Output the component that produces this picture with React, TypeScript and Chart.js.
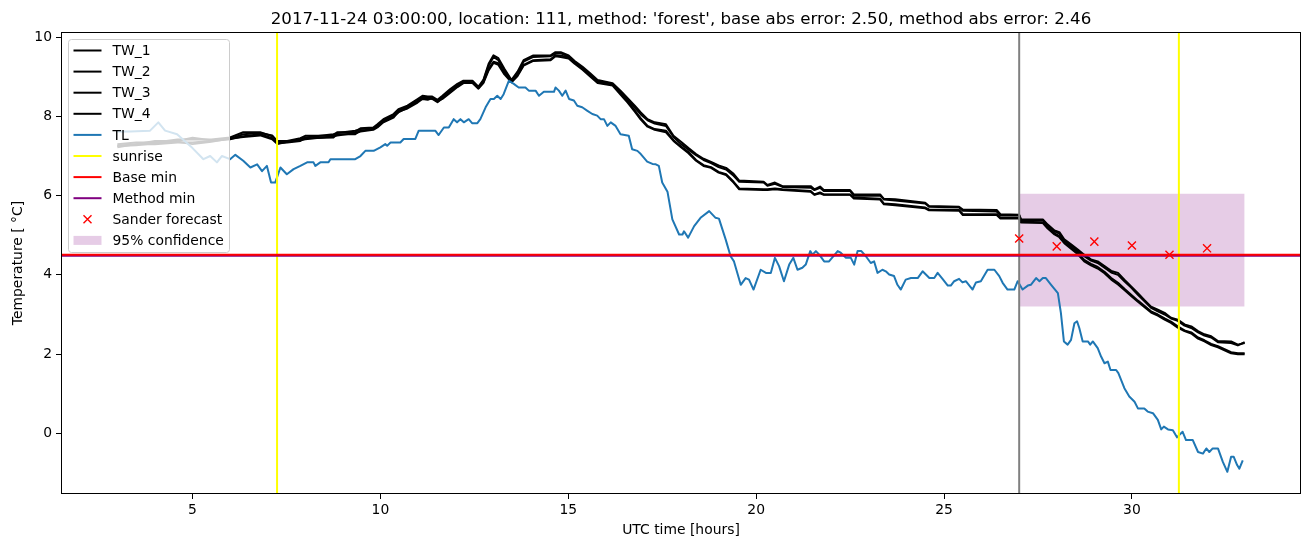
import React, { useEffect, useRef } from "react";
import { Chart, registerables } from "chart.js";

Chart.register(...registerables);

// ---------- text ----------
const titleText =
  "2017-11-24 03:00:00, location: 111, method: 'forest', base abs error: 2.50, method abs error: 2.46";
const xLabel = "UTC time [hours]";
const yLabel = "Temperature [ \u00B0C]";

// ---------- axes ----------
const xLimits = [1.5, 34.5];
const yLimits = [-1.53, 10.13];
const xTicks = [5, 10, 15, 20, 25, 30];
const yTicks = [0, 2, 4, 6, 8, 10];

// ---------- TL (air temperature) ----------
const tlHours = [
  3.0, 3.34, 3.87, 4.09, 4.27, 4.59, 5.0, 5.29, 5.47, 5.65,
  5.78, 6.0, 6.14, 6.35, 6.54, 6.72, 6.85, 6.98, 7.09, 7.2,
  7.34, 7.51, 7.69, 7.87, 8.05, 8.22, 8.27, 8.4, 8.62, 8.67,
  9.33, 9.47, 9.6, 9.82, 10.0, 10.13, 10.18, 10.27, 10.53, 10.62,
  10.93, 11.02, 11.46, 11.55, 11.69, 11.82, 11.95, 12.04, 12.13, 12.22,
  12.35, 12.44, 12.58, 12.66, 12.8, 12.93, 13.02, 13.11, 13.2, 13.28,
  13.42, 13.55, 13.68, 13.86, 13.95, 14.13, 14.22, 14.35, 14.62, 14.66,
  14.75, 14.84, 14.93, 15.02, 15.15, 15.24, 15.37, 15.51, 15.64, 15.77,
  15.86, 15.95, 16.04, 16.13, 16.26, 16.39, 16.61, 16.7, 16.84, 16.93,
  17.1, 17.24, 17.33, 17.41, 17.5, 17.64, 17.77, 17.95, 18.04, 18.08,
  18.19, 18.35, 18.52, 18.75, 18.92, 19.01, 19.19, 19.32, 19.41, 19.59,
  19.72, 19.81, 19.93, 20.12, 20.26, 20.39, 20.5, 20.61, 20.74, 20.88,
  20.99, 21.1, 21.23, 21.32, 21.44, 21.5, 21.59, 21.68, 21.81, 21.94,
  22.17, 22.25, 22.39, 22.52, 22.61, 22.7, 22.8, 22.92, 23.05, 23.14,
  23.23, 23.36, 23.45, 23.54, 23.67, 23.76, 23.85, 23.98, 24.12, 24.3,
  24.43, 24.61, 24.74, 24.83, 24.96, 25.1, 25.18, 25.27, 25.4, 25.49,
  25.58, 25.76, 25.85, 25.98, 26.16, 26.34, 26.47, 26.56, 26.69, 26.87,
  26.96, 27.09, 27.23, 27.31, 27.45, 27.54, 27.63, 27.71, 27.85, 28.03,
  28.11, 28.19, 28.29, 28.38, 28.47, 28.54, 28.6, 28.69, 28.83, 28.89,
  28.96, 29.09, 29.18, 29.27, 29.36, 29.43, 29.58, 29.64, 29.8, 29.93,
  30.07, 30.16, 30.33, 30.42, 30.56, 30.69, 30.78, 30.85, 30.96, 31.09,
  31.2, 31.26, 31.35, 31.44, 31.62, 31.76, 31.89, 31.98, 32.06, 32.15,
  32.29, 32.42, 32.54, 32.64, 32.71, 32.8, 32.86, 32.95,
];
const tlValues = [
  7.62, 7.62, 7.64, 7.85, 7.64, 7.55, 7.2, 6.92, 7.0, 6.84,
  7.0, 6.92, 7.03, 6.88, 6.71, 6.79, 6.62, 6.75, 6.33, 6.33,
  6.71, 6.54, 6.67, 6.75, 6.84, 6.84, 6.75, 6.84, 6.84, 6.92,
  6.92, 7.0, 7.13, 7.13, 7.22, 7.3, 7.26, 7.34, 7.34, 7.43,
  7.43, 7.64, 7.64, 7.53, 7.72, 7.72, 7.93, 7.85, 7.93, 7.85,
  7.93, 7.83, 7.83, 7.93, 8.23, 8.44, 8.44, 8.52, 8.44, 8.56,
  8.9, 8.82, 8.73, 8.73, 8.65, 8.65, 8.52, 8.62, 8.62, 8.73,
  8.65, 8.52, 8.65, 8.44, 8.4, 8.27, 8.23, 8.14, 8.06, 8.02,
  7.93, 7.93, 7.76, 7.85, 7.76, 7.55, 7.51, 7.17, 7.13, 7.05,
  6.86, 6.8, 6.79, 6.75, 6.33, 6.1, 5.4, 5.02, 5.02, 5.1,
  4.94, 5.23, 5.44, 5.61, 5.44, 5.42, 4.89, 4.47, 4.34, 3.75,
  3.92, 3.88, 3.63, 4.13, 4.05, 4.05, 4.43, 4.22, 3.84, 4.26,
  4.43, 4.13, 4.18, 4.26, 4.6, 4.51, 4.6, 4.51, 4.34, 4.34,
  4.6, 4.56, 4.43, 4.43, 4.26, 4.6, 4.6, 4.47, 4.3, 4.34,
  4.05, 4.13, 4.09, 4.01, 3.97, 3.75, 3.63, 3.88, 3.92, 3.92,
  4.09, 3.92, 3.92, 4.05, 3.9, 3.73, 3.73, 3.84, 3.9, 3.81,
  3.84, 3.63, 3.81, 3.84, 4.13, 4.13, 3.97, 3.8, 3.63, 3.63,
  3.84, 3.63, 3.73, 3.75, 3.92, 3.84, 3.92, 3.92, 3.75, 3.54,
  3.04, 2.32, 2.24, 2.36, 2.78, 2.83, 2.66, 2.32, 2.32, 2.24,
  2.32, 2.15, 1.94, 1.77, 1.81, 1.6, 1.6, 1.52, 1.14, 0.93,
  0.8, 0.63, 0.63, 0.55, 0.51, 0.34, 0.1, 0.17, 0.1, 0.08,
  -0.1, -0.04, 0.04, -0.17, -0.17, -0.47, -0.51, -0.38, -0.47, -0.38,
  -0.38, -0.72, -0.97, -0.59, -0.59, -0.8, -0.89, -0.68,
];

// ---------- TW_1..TW_4 ----------
const twHours = [
  3.0, 3.5, 4.0, 4.6, 5.0, 5.5, 6.0, 6.35, 6.8, 7.12,
  7.26, 7.52, 7.87, 8.0, 8.75, 8.85, 9.33, 9.47, 9.81, 9.92,
  10.08, 10.35, 10.48, 10.72, 10.99, 11.12, 11.26, 11.38, 11.52, 11.65,
  11.86, 12.05, 12.21, 12.45, 12.61, 12.74, 12.88, 13.01, 13.14, 13.3,
  13.49, 13.65, 13.81, 14.07, 14.53, 14.66, 14.8, 15.01, 15.17, 15.38,
  15.59, 15.78, 16.18, 16.39, 16.58, 16.77, 16.93, 17.11, 17.3, 17.6,
  17.8, 18.0, 18.2, 18.4, 18.6, 18.8, 19.0, 19.2, 19.4, 19.55,
  20.2, 20.3, 20.5, 20.7, 21.45, 21.55, 21.7, 21.8, 22.5, 22.6,
  23.3, 23.4, 23.7, 24.5, 24.6, 25.4, 25.5, 26.4, 26.5, 27.0,
  27.05, 27.63, 27.76, 27.94, 28.07, 28.2, 28.38, 28.56, 28.73, 28.91,
  29.09, 29.27, 29.45, 29.63, 29.8, 29.98, 30.16, 30.33, 30.51, 30.69,
  30.87, 31.04, 31.22, 31.4, 31.58, 31.76, 31.93, 32.11, 32.29, 32.64,
  32.82, 33.0,
];
const tw1Values = [
  7.3, 7.34, 7.34, 7.42, 7.42, 7.42, 7.47, 7.6, 7.6, 7.5,
  7.38, 7.38, 7.45, 7.51, 7.51, 7.6, 7.6, 7.7, 7.72, 7.8,
  7.93, 8.06, 8.18, 8.27, 8.44, 8.52, 8.5, 8.5, 8.42, 8.52,
  8.69, 8.82, 8.9, 8.9, 8.75, 8.92, 9.33, 9.54, 9.47, 9.2,
  8.92, 9.13, 9.42, 9.54, 9.54, 9.62, 9.62, 9.54, 9.4, 9.25,
  9.08, 8.92, 8.84, 8.65, 8.46, 8.27, 8.1, 7.93, 7.85, 7.8,
  7.51, 7.36, 7.2, 7.05, 6.93, 6.85, 6.76, 6.7, 6.55, 6.38,
  6.35, 6.27, 6.33, 6.24, 6.24, 6.16, 6.23, 6.14, 6.14, 6.03,
  6.03, 5.92, 5.91, 5.82, 5.74, 5.72, 5.65, 5.64, 5.53, 5.52,
  5.4, 5.4, 5.27, 5.12, 5.08, 4.9, 4.77, 4.64, 4.51, 4.39,
  4.34, 4.22, 4.1, 4.05, 3.88, 3.71, 3.54, 3.37, 3.2, 3.12,
  3.04, 2.92, 2.87, 2.75, 2.7, 2.58, 2.5, 2.45, 2.33, 2.32,
  2.24, 2.28,
];
const tw2Values = [
  7.26, 7.3, 7.38, 7.38, 7.46, 7.4, 7.44, 7.55, 7.58, 7.52,
  7.36, 7.36, 7.42, 7.47, 7.55, 7.58, 7.64, 7.68, 7.7, 7.76,
  7.9, 8.03, 8.14, 8.25, 8.4, 8.48, 8.48, 8.46, 8.4, 8.48,
  8.65, 8.78, 8.88, 8.88, 8.72, 8.9, 9.28, 9.5, 9.42, 9.16,
  8.9, 9.08, 9.38, 9.5, 9.52, 9.58, 9.6, 9.5, 9.38, 9.22,
  9.05, 8.9, 8.82, 8.62, 8.42, 8.22, 8.05, 7.9, 7.82, 7.76,
  7.48, 7.3, 7.16, 7.02, 6.9, 6.82, 6.72, 6.66, 6.5, 6.35,
  6.33, 6.25, 6.3, 6.22, 6.2, 6.14, 6.2, 6.12, 6.12, 6.0,
  6.0, 5.9, 5.88, 5.8, 5.72, 5.7, 5.62, 5.6, 5.5, 5.5,
  5.38, 5.38, 5.24, 5.1, 5.04, 4.86, 4.74, 4.6, 4.47, 4.36,
  4.3, 4.18, 4.06, 4.0, 3.84, 3.68, 3.5, 3.34, 3.17, 3.08,
  3.0, 2.9, 2.84, 2.72, 2.66, 2.55, 2.47, 2.42, 2.3, 2.28,
  2.22, 2.3,
];
const tw3Values = [
  7.22, 7.3, 7.3, 7.34, 7.34, 7.38, 7.42, 7.5, 7.55, 7.45,
  7.32, 7.34, 7.38, 7.45, 7.47, 7.55, 7.55, 7.64, 7.68, 7.74,
  7.88, 8.0, 8.1, 8.22, 8.38, 8.46, 8.46, 8.44, 8.36, 8.46,
  8.62, 8.76, 8.86, 8.86, 8.72, 8.86, 9.2, 9.38, 9.34, 9.1,
  8.88, 9.05, 9.3, 9.42, 9.44, 9.54, 9.54, 9.48, 9.36, 9.2,
  9.03, 8.86, 8.8, 8.58, 8.38, 8.15, 7.95, 7.76, 7.68, 7.64,
  7.4, 7.24, 7.1, 6.9, 6.77, 6.72, 6.6, 6.54, 6.35, 6.18,
  6.16, 6.16, 6.18, 6.16, 6.12, 6.03, 6.08, 6.03, 6.03, 5.95,
  5.92, 5.8, 5.78, 5.7, 5.65, 5.64, 5.53, 5.53, 5.44, 5.44,
  5.34, 5.33, 5.2, 5.05, 4.98, 4.84, 4.7, 4.56, 4.38, 4.28,
  4.2, 4.08, 3.92, 3.8, 3.65, 3.5, 3.35, 3.22, 3.08, 3.0,
  2.9, 2.82, 2.7, 2.6, 2.55, 2.42, 2.35, 2.26, 2.2, 2.05,
  2.02, 2.02,
];
const tw4Values = [
  7.25, 7.27, 7.32, 7.36, 7.3, 7.36, 7.44, 7.48, 7.52, 7.42,
  7.3, 7.36, 7.4, 7.42, 7.5, 7.52, 7.58, 7.62, 7.66, 7.72,
  7.85, 7.97, 8.12, 8.2, 8.35, 8.44, 8.42, 8.46, 8.38, 8.44,
  8.6, 8.74, 8.84, 8.84, 8.7, 8.84, 9.16, 9.35, 9.3, 9.06,
  8.86, 9.02, 9.28, 9.4, 9.42, 9.52, 9.5, 9.46, 9.33, 9.18,
  9.0, 8.84, 8.78, 8.55, 8.35, 8.12, 7.92, 7.74, 7.66, 7.6,
  7.38, 7.22, 7.07, 6.88, 6.75, 6.7, 6.58, 6.52, 6.33, 6.16,
  6.14, 6.14, 6.16, 6.14, 6.1, 6.02, 6.06, 6.02, 6.02, 5.93,
  5.9, 5.78, 5.76, 5.68, 5.63, 5.62, 5.51, 5.51, 5.42, 5.42,
  5.32, 5.31, 5.17, 5.02, 4.95, 4.8, 4.66, 4.52, 4.34, 4.24,
  4.16, 4.04, 3.88, 3.76, 3.62, 3.47, 3.32, 3.19, 3.05, 2.97,
  2.87, 2.79, 2.67, 2.58, 2.52, 2.39, 2.32, 2.23, 2.17, 2.02,
  2.0, 2.0,
];

// ---------- reference lines / forecast ----------
const sunriseHours = [7.25, 31.25];
const forecastStartHour = 27;
const baseMin = 4.51;
const methodMin = 4.48;
const sanderHours = [27, 28, 29, 30, 31, 32];
const sanderValues = [4.92, 4.72, 4.84, 4.74, 4.51, 4.67];
const confidenceHours = [27, 33];
const confidenceLow = 3.2;
const confidenceHigh = 6.05;

// ---------- styles ----------
const FONT = '"DejaVu Sans", "Liberation Sans", sans-serif';
const TL_COLOR = "#1f77b4";
const BAND_COLOR = "rgba(128,0,128,0.2)";

const toPts = (xs: number[], ys: number[]) => xs.map((x, i) => ({ x, y: ys[i] }));

const lineDs = (label: string, data: any[], color: string, order: number) => ({
  label,
  data,
  showLine: true,
  borderColor: color,
  backgroundColor: color,
  borderWidth: 2,
  pointRadius: 0,
  pointHoverRadius: 0,
  fill: false,
  tension: 0,
  borderJoinStyle: "round" as const,
  order,
});

const legendItems = [
  { label: "TW_1", kind: "line", color: "#000000" },
  { label: "TW_2", kind: "line", color: "#000000" },
  { label: "TW_3", kind: "line", color: "#000000" },
  { label: "TW_4", kind: "line", color: "#000000" },
  { label: "TL", kind: "line", color: TL_COLOR },
  { label: "sunrise", kind: "line", color: "#ffff00" },
  { label: "Base min", kind: "line", color: "#ff0000" },
  { label: "Method min", kind: "line", color: "#800080" },
  { label: "Sander forecast", kind: "marker", color: "#ff0000" },
  { label: "95% confidence", kind: "patch", color: BAND_COLOR },
];

const decorPlugin = {
  id: "decor",
  afterDatasetsDraw(chart: any) {
    const { ctx, chartArea } = chart;
    const l = Math.round(chartArea.left) + 0.5;
    const t = Math.round(chartArea.top) + 0.5;
    const r = Math.round(chartArea.right) - 0.5;
    const b = Math.round(chartArea.bottom) - 0.5;
    ctx.save();
    ctx.strokeStyle = "#000";
    ctx.lineWidth = 1;
    ctx.strokeRect(l, t, r - l, b - t);
    ctx.restore();
  },
  afterDraw(chart: any) {
    const { ctx, chartArea } = chart;
    const cx = (chartArea.left + chartArea.right) / 2;
    const cy = (chartArea.top + chartArea.bottom) / 2;
    ctx.save();
    ctx.fillStyle = "#000";
    ctx.textAlign = "center";
    ctx.textBaseline = "middle";
    ctx.font = `16.67px ${FONT}`;
    ctx.fillText(titleText, cx, chartArea.top - 12);
    ctx.font = `13.9px ${FONT}`;
    ctx.fillText(xLabel, cx, chartArea.bottom + 36);
    ctx.save();
    ctx.translate(18, cy);
    ctx.rotate(-Math.PI / 2);
    ctx.fillText(yLabel, 0, 0);
    ctx.restore();

    // legend
    const bx = chartArea.left + 7.5;
    const by = chartArea.top + 7.5;
    const bw = 161;
    const bh = 213;
    const rad = 3;
    ctx.beginPath();
    ctx.moveTo(bx + rad, by);
    ctx.lineTo(bx + bw - rad, by);
    ctx.arcTo(bx + bw, by, bx + bw, by + rad, rad);
    ctx.lineTo(bx + bw, by + bh - rad);
    ctx.arcTo(bx + bw, by + bh, bx + bw - rad, by + bh, rad);
    ctx.lineTo(bx + rad, by + bh);
    ctx.arcTo(bx, by + bh, bx, by + bh - rad, rad);
    ctx.lineTo(bx, by + rad);
    ctx.arcTo(bx, by, bx + rad, by, rad);
    ctx.closePath();
    ctx.fillStyle = "rgba(255,255,255,0.8)";
    ctx.fill();
    ctx.strokeStyle = "#cccccc";
    ctx.lineWidth = 1;
    ctx.stroke();

    const hx0 = bx + 5;
    const hx1 = bx + 33;
    const tx = bx + 44;
    ctx.textAlign = "left";
    ctx.textBaseline = "middle";
    ctx.font = `13.9px ${FONT}`;
    legendItems.forEach((it, i) => {
      const y = by + 11 + i * 21.1;
      if (it.kind === "line") {
        ctx.strokeStyle = it.color;
        ctx.lineWidth = 2;
        ctx.beginPath();
        ctx.moveTo(hx0, y);
        ctx.lineTo(hx1, y);
        ctx.stroke();
      } else if (it.kind === "marker") {
        const mx = (hx0 + hx1) / 2;
        const d = 4;
        ctx.strokeStyle = it.color;
        ctx.lineWidth = 1.4;
        ctx.beginPath();
        ctx.moveTo(mx - d, y - d);
        ctx.lineTo(mx + d, y + d);
        ctx.moveTo(mx - d, y + d);
        ctx.lineTo(mx + d, y - d);
        ctx.stroke();
      } else {
        ctx.fillStyle = it.color;
        ctx.fillRect(hx0, y - 4.5, hx1 - hx0, 9);
      }
      ctx.fillStyle = "#000";
      ctx.fillText(it.label, tx, y + 1);
    });
    ctx.restore();
  },
};

export default function App() {
  const canvasRef = useRef<HTMLCanvasElement | null>(null);

  useEffect(() => {
    const canvas = canvasRef.current;
    if (!canvas) return;

    const datasets: any[] = [
      {
        label: "95% confidence",
        data: toPts(confidenceHours, [confidenceHigh, confidenceHigh]),
        showLine: true,
        borderWidth: 0,
        borderColor: "rgba(0,0,0,0)",
        backgroundColor: BAND_COLOR,
        pointRadius: 0,
        fill: { value: confidenceLow },
        order: 100,
      },
      lineDs("TW_1", toPts(twHours, tw1Values), "#000000", 90),
      lineDs("TW_2", toPts(twHours, tw2Values), "#000000", 89),
      lineDs("TW_3", toPts(twHours, tw3Values), "#000000", 88),
      lineDs("TW_4", toPts(twHours, tw4Values), "#000000", 87),
      lineDs("TL", toPts(tlHours, tlValues), TL_COLOR, 80),
      ...sunriseHours.map((h) =>
        lineDs("sunrise", [{ x: h, y: yLimits[0] }, { x: h, y: yLimits[1] }], "#ffff00", 70)
      ),
      lineDs(
        "",
        [{ x: forecastStartHour, y: yLimits[0] }, { x: forecastStartHour, y: yLimits[1] }],
        "#808080",
        70
      ),
      lineDs("Method min", [{ x: xLimits[0], y: methodMin }, { x: xLimits[1], y: methodMin }], "#800080", 60),
      lineDs("Base min", [{ x: xLimits[0], y: baseMin }, { x: xLimits[1], y: baseMin }], "#ff0000", 50),
      {
        label: "Sander forecast",
        data: toPts(sanderHours, sanderValues),
        showLine: false,
        pointStyle: "crossRot",
        pointRadius: 5.7,
        pointHoverRadius: 5.7,
        borderColor: "#ff0000",
        backgroundColor: "#ff0000",
        pointBorderWidth: 1.4,
        borderWidth: 1.4,
        order: 40,
      },
    ];

    const tickFont = { family: FONT, size: 13.9 };
    const chart = new Chart(canvas, {
      type: "scatter",
      data: { datasets },
      options: {
        animation: false,
        responsive: false,
        devicePixelRatio: 1,
        events: [],
        layout: { padding: { top: 32, right: 9, left: 0, bottom: 0 } },
        plugins: {
          legend: { display: false },
          title: { display: false },
          tooltip: { enabled: false },
        },
        scales: {
          x: {
            type: "linear",
            min: xLimits[0],
            max: xLimits[1],
            afterBuildTicks: (s: any) => {
              s.ticks = xTicks.map((v) => ({ value: v }));
            },
            afterFit: (s: any) => {
              s.height = 53;
            },
            grid: { drawOnChartArea: false, drawTicks: true, tickLength: 5, color: "#000", lineWidth: 1 },
            border: { display: false },
            ticks: {
              color: "#000",
              font: tickFont,
              padding: 3,
              maxRotation: 0,
              autoSkip: false,
              callback: (v: any) => String(v),
            },
          },
          y: {
            type: "linear",
            min: yLimits[0],
            max: yLimits[1],
            afterBuildTicks: (s: any) => {
              s.ticks = yTicks.map((v) => ({ value: v }));
            },
            afterFit: (s: any) => {
              s.width = 61;
            },
            grid: { drawOnChartArea: false, drawTicks: true, tickLength: 5, color: "#000", lineWidth: 1 },
            border: { display: false },
            ticks: {
              color: "#000",
              font: tickFont,
              padding: 4,
              autoSkip: false,
              callback: (v: any) => String(v),
            },
          },
        },
      },
      plugins: [decorPlugin],
    } as any);

    return () => {
      chart.destroy();
    };
  }, []);

  return (
    <div style={{ position: "absolute", left: 0, top: 0, width: 1310, height: 547, background: "#fff" }}>
      <canvas ref={canvasRef} width={1310} height={547} style={{ display: "block" }} />
    </div>
  );
}
